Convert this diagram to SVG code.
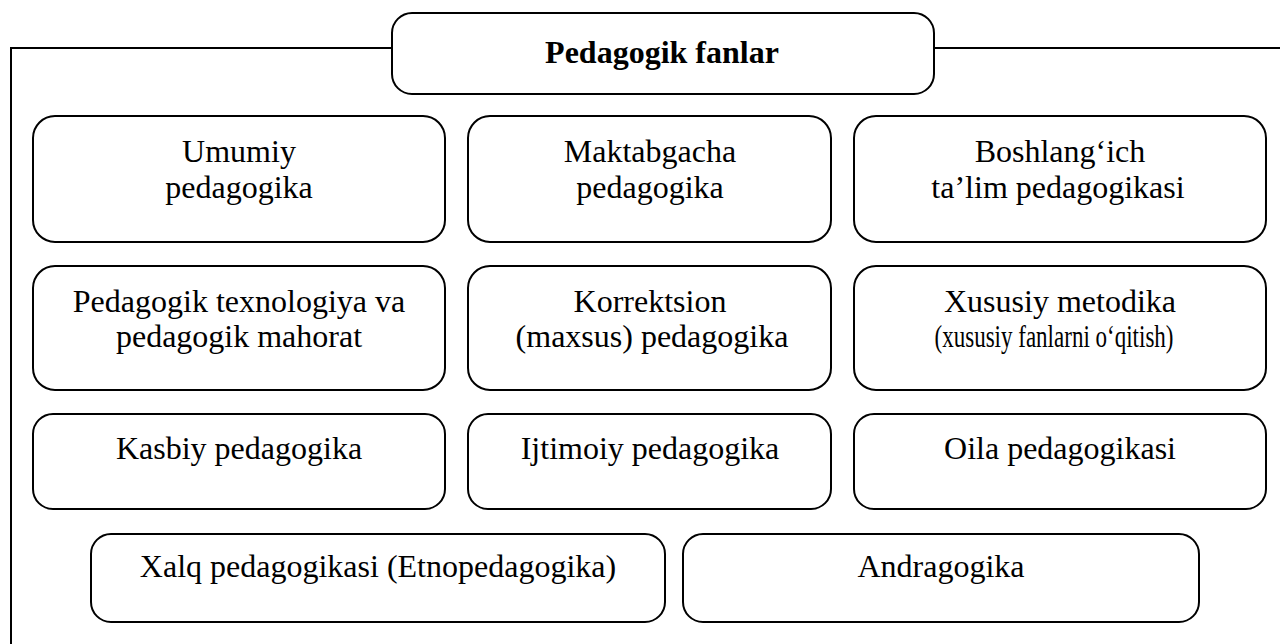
<svg xmlns="http://www.w3.org/2000/svg" width="1280" height="644" viewBox="0 0 1280 644">
<style>
.box{fill:#fff;stroke:#000;stroke-width:2}
.frame{fill:none;stroke:#000;stroke-width:2}
text{font-family:"Liberation Serif","Times New Roman",serif;font-size:32px;fill:#000;text-anchor:middle}
.title{font-weight:bold}
</style>
<rect width="1280" height="644" fill="#fff"/>
<g id="connectors">
<path class="frame" d="M1280 48 H934 M392 48 H11 V644"/>
</g>
<g id="title">
<rect class="box" x="392" y="13" width="542" height="81" rx="20"/>
<text class="title" x="662" y="63">Pedagogik fanlar</text>
</g>
<g id="umumiy">
<rect class="box" x="33" y="116" width="412" height="126" rx="22"/>
<text x="239" y="162">Umumiy</text>
<text x="239" y="198">pedagogika</text>
</g>
<g id="maktabgacha">
<rect class="box" x="468" y="116" width="363" height="126" rx="22"/>
<text x="650" y="162">Maktabgacha</text>
<text x="650" y="198">pedagogika</text>
</g>
<g id="boshlangich">
<rect class="box" x="854" y="116" width="412" height="126" rx="22"/>
<text x="1060" y="162">Boshlang‘ich</text>
<text x="1058" y="198">ta’lim pedagogikasi</text>
</g>
<g id="texnologiya">
<rect class="box" x="33" y="266" width="412" height="124" rx="22"/>
<text x="239" y="312">Pedagogik texnologiya va</text>
<text x="239" y="347">pedagogik mahorat</text>
</g>
<g id="korrektsion">
<rect class="box" x="468" y="266" width="363" height="124" rx="22"/>
<text x="650" y="312">Korrektsion</text>
<text x="652" y="347">(maxsus) pedagogika</text>
</g>
<g id="xususiy">
<rect class="box" x="854" y="266" width="412" height="124" rx="22"/>
<text x="1060" y="312">Xususiy metodika</text>
<text x="1054" y="347" textLength="239" lengthAdjust="spacingAndGlyphs">(xususiy fanlarni o‘qitish)</text>
</g>
<g id="kasbiy">
<rect class="box" x="33" y="414" width="412" height="95" rx="20"/>
<text x="239" y="459">Kasbiy pedagogika</text>
</g>
<g id="ijtimoiy">
<rect class="box" x="468" y="414" width="363" height="95" rx="20"/>
<text x="650" y="459">Ijtimoiy pedagogika</text>
</g>
<g id="oila">
<rect class="box" x="854" y="414" width="412" height="95" rx="20"/>
<text x="1060" y="459">Oila pedagogikasi</text>
</g>
<g id="xalq">
<rect class="box" x="91" y="534" width="574" height="88" rx="20"/>
<text x="378" y="577">Xalq pedagogikasi (Etnopedagogika)</text>
</g>
<g id="andragogika">
<rect class="box" x="683" y="534" width="516" height="88" rx="20"/>
<text x="941" y="577">Andragogika</text>
</g>
</svg>
